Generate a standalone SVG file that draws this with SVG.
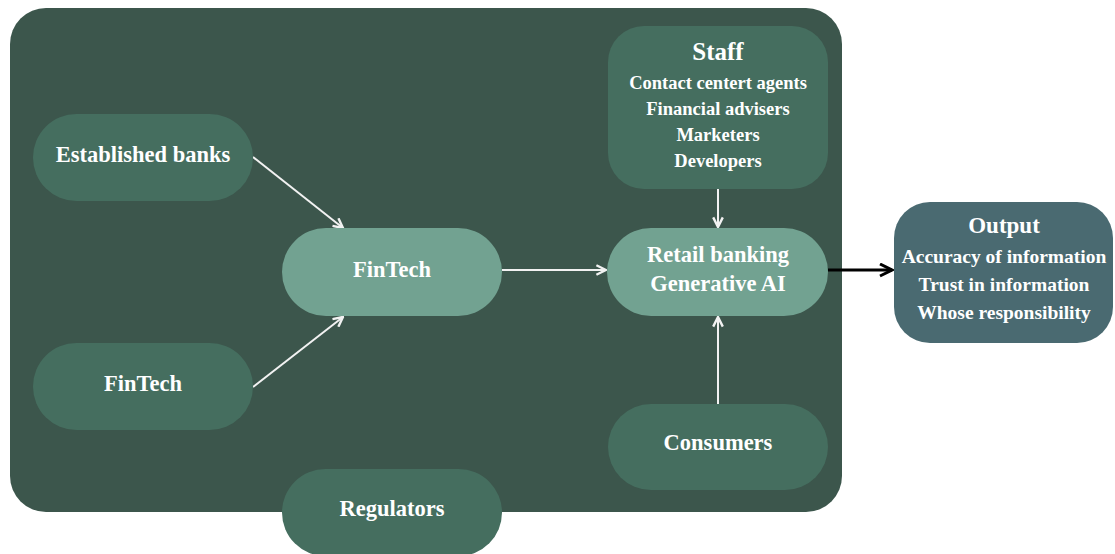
<svg xmlns="http://www.w3.org/2000/svg" width="1115" height="554" viewBox="0 0 1115 554">
  <style>
    .t { font-family: "Liberation Serif", "Times New Roman", serif; font-weight: bold; fill: #ffffff; text-anchor: middle; }
    .ttl { font-size: 23px; }
    .stt { font-size: 25px; }
    .md { font-size: 22.5px; }
    .st { font-size: 18.5px; }
    .oi { font-size: 19.5px; }
    .dark { fill: #456e5f; }
    .light { fill: #72a291; }
    .out { fill: #4a6a71; }
    .wl { stroke: #f2f2f2; stroke-width: 2; fill: none; }
    .bl { stroke: #000000; stroke-width: 3; fill: none; }
  </style>
  <defs>
    <marker id="wa" viewBox="0 0 10 10" refX="9" refY="5" markerWidth="6" markerHeight="6" markerUnits="strokeWidth" orient="auto">
      <path d="M1,1 L9,5 L1,9" fill="none" stroke="#f2f2f2" stroke-width="2"/>
    </marker>
    <marker id="ba" viewBox="0 0 10 10" refX="9" refY="5" markerWidth="5" markerHeight="5" markerUnits="strokeWidth" orient="auto">
      <path d="M1,1 L9,5 L1,9" fill="none" stroke="#000000" stroke-width="2"/>
    </marker>
  </defs>

  <!-- ecosystem panel -->
  <rect id="panel" x="10" y="8" width="832" height="504" rx="36" fill="#3c564c"/>

  <!-- connectors -->
  <g id="connectors">
    <line class="wl" x1="253" y1="157" x2="343" y2="228" marker-end="url(#wa)"/>
    <line class="wl" x1="253" y1="387" x2="343" y2="317" marker-end="url(#wa)"/>
    <line class="wl" x1="502" y1="270" x2="606" y2="270" marker-end="url(#wa)"/>
    <line class="wl" x1="718" y1="189" x2="718" y2="227" marker-end="url(#wa)"/>
    <line class="wl" x1="718" y1="404" x2="718" y2="317" marker-end="url(#wa)"/>
    <line class="bl" x1="828" y1="270" x2="892" y2="270" marker-end="url(#ba)"/>
  </g>

  <g id="established-banks">
    <rect class="dark" x="33" y="114" width="220" height="87" rx="43.5"/>
    <text class="t md" x="143" y="162">Established banks</text>
  </g>

  <g id="fintech-source">
    <rect class="dark" x="33" y="343" width="220" height="87" rx="43.5"/>
    <text class="t md" x="143" y="391">FinTech</text>
  </g>

  <g id="fintech">
    <rect class="light" x="282" y="228" width="220" height="88" rx="44"/>
    <text class="t md" x="392" y="277">FinTech</text>
  </g>

  <g id="staff">
    <rect class="dark" x="608" y="26" width="220" height="163" rx="36"/>
    <text class="t stt" x="718" y="60">Staff</text>
    <text class="t st" x="718" y="89">Contact centert agents</text>
    <text class="t st" x="718" y="115">Financial advisers</text>
    <text class="t st" x="718" y="141">Marketers</text>
    <text class="t st" x="718" y="167">Developers</text>
  </g>

  <g id="retail-banking-ai">
    <rect class="light" x="607" y="228" width="221" height="88" rx="44"/>
    <text class="t md" x="718" y="262">Retail banking</text>
    <text class="t md" x="718" y="291">Generative AI</text>
  </g>

  <g id="consumers">
    <rect class="dark" x="608" y="404" width="220" height="86" rx="43"/>
    <text class="t md" x="718" y="450">Consumers</text>
  </g>

  <g id="regulators">
    <rect class="dark" x="282" y="469" width="220" height="87" rx="43.5"/>
    <text class="t md" x="392" y="516">Regulators</text>
  </g>

  <g id="output">
    <rect class="out" x="894" y="202" width="219" height="141" rx="36"/>
    <text class="t ttl" x="1004" y="233">Output</text>
    <text class="t oi" x="1004" y="263">Accuracy of information</text>
    <text class="t oi" x="1004" y="291">Trust in information</text>
    <text class="t oi" x="1004" y="319">Whose responsibility</text>
  </g>
</svg>
